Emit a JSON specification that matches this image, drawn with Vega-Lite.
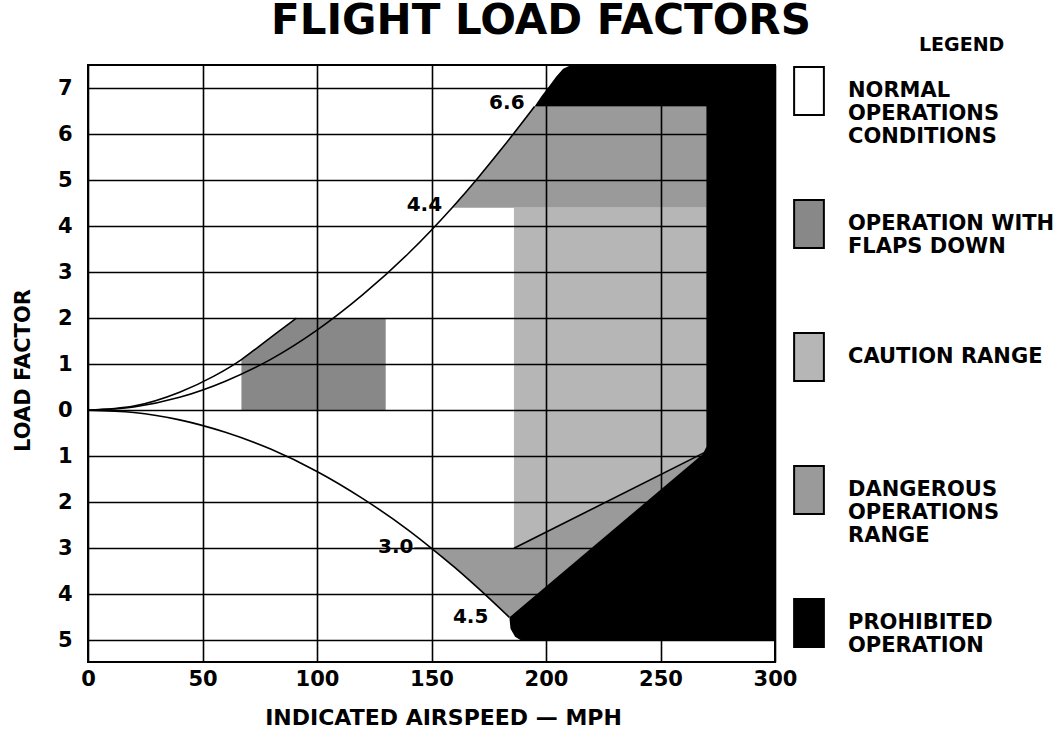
{
  "$schema": "https://vega.github.io/schema/vega-lite/v6.json",
  "width": 687,
  "height": 597,
  "autosize": {"type": "none"},
  "padding": {"left": 88, "top": 65, "right": 287, "bottom": 76},
  "background": "white",
  "config": {
    "font": "DejaVu Sans",
    "view": {"stroke": "black", "strokeWidth": 2}
  },
  "title": {
    "text": "FLIGHT LOAD FACTORS",
    "font": "DejaVu Sans",
    "fontWeight": "bold",
    "fontSize": 42,
    "color": "black",
    "anchor": "start",
    "frame": "group",
    "offset": 0,
    "dx": 183,
    "dy": 7
  },
  "datasets": {
    "regions": [
      {"cat": "flaps", "poly": "f", "i": 0, "v": 67, "n": 0},
      {"cat": "flaps", "poly": "f", "i": 1, "v": 130, "n": 0},
      {"cat": "flaps", "poly": "f", "i": 2, "v": 130, "n": 2},
      {"cat": "flaps", "poly": "f", "i": 3, "v": 91, "n": 2},
      {"cat": "flaps", "poly": "f", "i": 4, "v": 83, "n": 1.7},
      {"cat": "flaps", "poly": "f", "i": 5, "v": 75, "n": 1.4},
      {"cat": "flaps", "poly": "f", "i": 6, "v": 67, "n": 1.1},

      {"cat": "dangerous", "poly": "d1", "i": 0, "v": 159, "n": 4.4},
      {"cat": "dangerous", "poly": "d1", "i": 1, "v": 170, "n": 5.03},
      {"cat": "dangerous", "poly": "d1", "i": 2, "v": 180, "n": 5.64},
      {"cat": "dangerous", "poly": "d1", "i": 3, "v": 188, "n": 6.15},
      {"cat": "dangerous", "poly": "d1", "i": 4, "v": 195, "n": 6.6},
      {"cat": "dangerous", "poly": "d1", "i": 5, "v": 270, "n": 6.6},
      {"cat": "dangerous", "poly": "d1", "i": 6, "v": 270, "n": 4.4},

      {"cat": "caution", "poly": "c", "i": 0, "v": 186, "n": 4.4},
      {"cat": "caution", "poly": "c", "i": 1, "v": 270, "n": 4.4},
      {"cat": "caution", "poly": "c", "i": 2, "v": 270, "n": -0.9},
      {"cat": "caution", "poly": "c", "i": 3, "v": 186, "n": -3.0},

      {"cat": "dangerous", "poly": "d2", "i": 0, "v": 150, "n": -3.0},
      {"cat": "dangerous", "poly": "d2", "i": 1, "v": 186, "n": -3.0},
      {"cat": "dangerous", "poly": "d2", "i": 2, "v": 270, "n": -0.9},
      {"cat": "dangerous", "poly": "d2", "i": 3, "v": 184, "n": -4.5},
      {"cat": "dangerous", "poly": "d2", "i": 4, "v": 177, "n": -4.18},
      {"cat": "dangerous", "poly": "d2", "i": 5, "v": 170, "n": -3.85},
      {"cat": "dangerous", "poly": "d2", "i": 6, "v": 160, "n": -3.41},

      {"cat": "prohibited", "poly": "p", "i": 0, "v": 195, "n": 6.6},
      {"cat": "prohibited", "poly": "p", "i": 1, "v": 270, "n": 6.6},
      {"cat": "prohibited", "poly": "p", "i": 2, "v": 270, "n": -0.8},
      {"cat": "prohibited", "poly": "p", "i": 3, "v": 268.5, "n": -0.95},
      {"cat": "prohibited", "poly": "p", "i": 4, "v": 184, "n": -4.5},
      {"cat": "prohibited", "poly": "p", "i": 5, "v": 184.5, "n": -4.75},
      {"cat": "prohibited", "poly": "p", "i": 6, "v": 186.5, "n": -4.92},
      {"cat": "prohibited", "poly": "p", "i": 7, "v": 189, "n": -5.0},
      {"cat": "prohibited", "poly": "p", "i": 8, "v": 300, "n": -5.0},
      {"cat": "prohibited", "poly": "p", "i": 9, "v": 300, "n": 7.5},
      {"cat": "prohibited", "poly": "p", "i": 10, "v": 211, "n": 7.5},
      {"cat": "prohibited", "poly": "p", "i": 11, "v": 207.5, "n": 7.42},
      {"cat": "prohibited", "poly": "p", "i": 12, "v": 204.5, "n": 7.25},
      {"cat": "prohibited", "poly": "p", "i": 13, "v": 201.5, "n": 7.05},
      {"cat": "prohibited", "poly": "p", "i": 14, "v": 198, "n": 6.82}
    ],
    "curves": [
      {"curve": "clean", "i": 0, "v": 0, "n": 0},
      {"curve": "clean", "i": 1, "v": 20, "n": 0.07},
      {"curve": "clean", "i": 2, "v": 40, "n": 0.28},
      {"curve": "clean", "i": 3, "v": 60, "n": 0.63},
      {"curve": "clean", "i": 4, "v": 80, "n": 1.11},
      {"curve": "clean", "i": 5, "v": 100, "n": 1.74},
      {"curve": "clean", "i": 6, "v": 120, "n": 2.51},
      {"curve": "clean", "i": 7, "v": 140, "n": 3.41},
      {"curve": "clean", "i": 8, "v": 159, "n": 4.4},
      {"curve": "clean", "i": 9, "v": 170, "n": 5.03},
      {"curve": "clean", "i": 10, "v": 180, "n": 5.64},
      {"curve": "clean", "i": 11, "v": 195, "n": 6.6},
      {"curve": "flaps", "i": 0, "v": 0, "n": 0},
      {"curve": "flaps", "i": 1, "v": 20, "n": 0.09},
      {"curve": "flaps", "i": 2, "v": 40, "n": 0.39},
      {"curve": "flaps", "i": 3, "v": 55, "n": 0.74},
      {"curve": "flaps", "i": 4, "v": 67, "n": 1.1},
      {"curve": "flaps", "i": 5, "v": 75, "n": 1.4},
      {"curve": "flaps", "i": 6, "v": 83, "n": 1.7},
      {"curve": "flaps", "i": 7, "v": 91, "n": 2.0},
      {"curve": "neg", "i": 0, "v": 0, "n": 0},
      {"curve": "neg", "i": 1, "v": 20, "n": -0.05},
      {"curve": "neg", "i": 2, "v": 40, "n": -0.21},
      {"curve": "neg", "i": 3, "v": 60, "n": -0.48},
      {"curve": "neg", "i": 4, "v": 80, "n": -0.85},
      {"curve": "neg", "i": 5, "v": 100, "n": -1.33},
      {"curve": "neg", "i": 6, "v": 120, "n": -1.92},
      {"curve": "neg", "i": 7, "v": 140, "n": -2.61},
      {"curve": "neg", "i": 8, "v": 150, "n": -3.0},
      {"curve": "neg", "i": 9, "v": 160, "n": -3.41},
      {"curve": "neg", "i": 10, "v": 170, "n": -3.85},
      {"curve": "neg", "i": 11, "v": 184, "n": -4.5},
      {"curve": "edge", "i": 0, "v": 186, "n": -3.0},
      {"curve": "edge", "i": 1, "v": 270, "n": -0.9},
      {"curve": "lead", "i": 0, "v": 142.5, "n": -3.0},
      {"curve": "lead", "i": 1, "v": 150, "n": -3.0}
    ],
    "labels": [
      {"label": "6.6", "v": 195, "n": 6.6, "pos": "a"},
      {"label": "4.4", "v": 159, "n": 4.4, "pos": "a"},
      {"label": "3.0", "v": 150, "n": -3.0, "pos": "b"},
      {"label": "4.5", "v": 184, "n": -4.5, "pos": "c"}
    ]
  },
  "layer": [
    {
      "data": {"name": "regions"},
      "mark": {"type": "line", "stroke": null, "strokeWidth": 0},
      "encoding": {
        "x": {
          "field": "v",
          "type": "quantitative",
          "scale": {"domain": [0, 300], "nice": false, "zero": false},
          "axis": {
            "values": [0, 50, 100, 150, 200, 250, 300],
            "title": "INDICATED AIRSPEED — MPH",
            "titleFont": "DejaVu Sans",
            "titleFontWeight": "bold",
            "titleFontSize": 22,
            "titleColor": "black",
            "titlePadding": 18,
            "titleX": 355,
            "labelFont": "DejaVu Sans",
            "labelFontWeight": "bold",
            "labelFontSize": 21,
            "labelColor": "black",
            "labelPadding": 6,
            "labelFlush": false,
            "ticks": false,
            "domain": false,
            "grid": true,
            "gridColor": "black",
            "gridWidth": 1.6,
            "gridOpacity": 1,
            "zindex": 1
          }
        },
        "y": {
          "field": "n",
          "type": "quantitative",
          "scale": {"domain": [-5.47, 7.5], "nice": false, "zero": false},
          "axis": {
            "values": [-5, -4, -3, -2, -1, 0, 1, 2, 3, 4, 5, 6, 7],
            "labelExpr": "abs(datum.value)",
            "title": "LOAD FACTOR",
            "titleFont": "DejaVu Sans",
            "titleFontWeight": "bold",
            "titleFontSize": 21,
            "titleColor": "black",
            "titlePadding": 24,
            "titleY": 305,
            "labelFont": "DejaVu Sans",
            "labelFontWeight": "bold",
            "labelFontSize": 21,
            "labelColor": "black",
            "labelPadding": 16,
            "labelFlush": false,
            "ticks": false,
            "domain": false,
            "grid": true,
            "gridColor": "black",
            "gridWidth": 1.6,
            "gridOpacity": 1,
            "zindex": 1
          }
        },
        "fill": {
          "field": "cat",
          "type": "nominal",
          "scale": {
            "domain": ["normal", "flaps", "caution", "dangerous", "prohibited"],
            "range": ["white", "#888888", "#b6b6b6", "#9a9a9a", "black"]
          },
          "legend": {
            "title": "LEGEND",
            "orient": "none",
            "legendX": 696,
            "legendY": -29,
            "symbolType": "M-0.62,-1H0.62V1H-0.62Z",
            "symbolSize": 2304,
            "symbolStrokeColor": "black",
            "symbolStrokeWidth": 2,
            "symbolOpacity": 1,
            "labelFont": "DejaVu Sans",
            "labelFontWeight": "bold",
            "labelFontSize": 21,
            "labelLineHeight": 25,
            "labelColor": "black",
            "labelOffset": 14,
            "labelLimit": 400,
            "labelExpr": "datum.value == 'normal' ? ['NORMAL','OPERATIONS','CONDITIONS'] : datum.value == 'flaps' ? ['OPERATION WITH','FLAPS DOWN'] : datum.value == 'caution' ? 'CAUTION RANGE' : datum.value == 'dangerous' ? ['DANGEROUS','OPERATIONS','RANGE'] : ['PROHIBITED','OPERATION']",
            "gridAlign": "all",
            "rowPadding": 49,
            "titleFont": "DejaVu Sans",
            "titleFontWeight": "bold",
            "titleFontSize": 19,
            "titleColor": "black",
            "titleAnchor": "middle",
            "titleAlign": "left",
            "titlePadding": 11
          }
        },
        "detail": {"field": "poly"},
        "order": {"field": "i", "type": "quantitative"}
      }
    },
    {
      "data": {"name": "curves"},
      "mark": {"type": "line", "stroke": "black", "strokeWidth": 1.6, "interpolate": "monotone"},
      "encoding": {
        "x": {"field": "v", "type": "quantitative"},
        "y": {"field": "n", "type": "quantitative"},
        "detail": {"field": "curve"},
        "order": {"field": "i", "type": "quantitative"}
      }
    },
    {
      "data": {"name": "labels"},
      "transform": [{"filter": "datum.pos == 'a'"}],
      "mark": {"type": "text", "align": "right", "baseline": "middle", "font": "DejaVu Sans", "fontWeight": "bold", "fontSize": 20, "color": "black", "dx": -10, "dy": -3},
      "encoding": {
        "x": {"field": "v", "type": "quantitative"},
        "y": {"field": "n", "type": "quantitative"},
        "text": {"field": "label"}
      }
    },
    {
      "data": {"name": "labels"},
      "transform": [{"filter": "datum.pos == 'b'"}],
      "mark": {"type": "text", "align": "right", "baseline": "middle", "font": "DejaVu Sans", "fontWeight": "bold", "fontSize": 20, "color": "black", "dx": -18, "dy": -1},
      "encoding": {
        "x": {"field": "v", "type": "quantitative"},
        "y": {"field": "n", "type": "quantitative"},
        "text": {"field": "label"}
      }
    },
    {
      "data": {"name": "labels"},
      "transform": [{"filter": "datum.pos == 'c'"}],
      "mark": {"type": "text", "align": "right", "baseline": "middle", "font": "DejaVu Sans", "fontWeight": "bold", "fontSize": 20, "color": "black", "dx": -21, "dy": 0},
      "encoding": {
        "x": {"field": "v", "type": "quantitative"},
        "y": {"field": "n", "type": "quantitative"},
        "text": {"field": "label"}
      }
    }
  ]
}
